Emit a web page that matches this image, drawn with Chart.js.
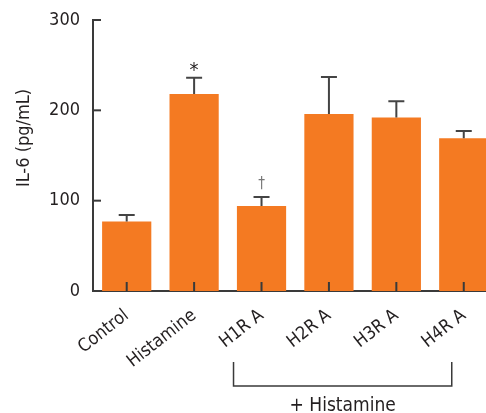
<!DOCTYPE html>
<html>
<head>
<meta charset="utf-8">
<script src="https://cdn.jsdelivr.net/npm/chart.js@4/dist/chart.umd.min.js"></script>
<style>
  html, body { margin: 0; padding: 0; background: #fff; overflow: hidden; }
  #wrap { width: 486px; height: 413px; }
</style>
</head>
<body>
<div id="wrap"><canvas id="c" width="486" height="413"></canvas></div>
<script>
// IL-6 release per treatment group (mean and SEM, pg/mL)
const categories = ['Control', 'Histamine', 'H1R A', 'H2R A', 'H3R A', 'H4R A'];
const il6Mean = [77, 218, 94, 196, 192, 169];
const il6Sem = [7, 18, 10, 41, 18, 8];
const significance = ['', '*', '\u2020', '', '', ''];
const yTicks = [0, 100, 200, 300];
const yTitle = 'IL-6 (pg/mL)';
const groupLabel = '+ Histamine';
const groupFirst = 2, groupLast = 5;

const FONT = "'Liberation Sans Narrow', 'DejaVu Sans Condensed', Roboto, sans-serif";
const INK = '#231f20';
const AXIS = '#3a3a3a';
const BAR = '#f47a22';

// Inward ticks, error bars, markers, axis title and the grouping bracket
const overlay = {
  id: 'overlay',
  afterDatasetsDraw(chart) {
    const { ctx, chartArea: a, scales: { x, y } } = chart;
    ctx.save();
    ctx.strokeStyle = AXIS;
    ctx.lineWidth = 2;
    // y ticks pointing into the plot
    yTicks.forEach(v => {
      if (v === 0) return;
      const py = y.getPixelForValue(v);
      ctx.beginPath(); ctx.moveTo(a.left, py); ctx.lineTo(a.left + 8, py); ctx.stroke();
    });
    // x ticks pointing up into the bars
    categories.forEach((_, i) => {
      const px = x.getPixelForValue(i);
      ctx.beginPath(); ctx.moveTo(px, a.bottom); ctx.lineTo(px, a.bottom - 9); ctx.stroke();
    });
    // upper error bars
    ctx.strokeStyle = '#444';
    categories.forEach((_, i) => {
      const px = x.getPixelForValue(i);
      const top = y.getPixelForValue(il6Mean[i] + il6Sem[i]);
      const base = y.getPixelForValue(il6Mean[i]);
      ctx.beginPath();
      ctx.moveTo(px, base); ctx.lineTo(px, top);
      ctx.moveTo(px - 8, top); ctx.lineTo(px + 8, top);
      ctx.stroke();
      if (significance[i]) {
        const star = significance[i] === '*';
        ctx.fillStyle = star ? INK : '#777';
        ctx.font = (star ? '20px ' : '15px ') + FONT;
        ctx.textAlign = 'center';
        ctx.textBaseline = 'alphabetic';
        ctx.fillText(significance[i], px, top + (star ? -2 : -9));
      }
    });
    // y axis title
    ctx.fillStyle = INK;
    ctx.font = '18px ' + FONT;
    ctx.textAlign = 'center';
    ctx.textBaseline = 'middle';
    ctx.save();
    ctx.translate(24, a.top + 118);
    ctx.rotate(-Math.PI / 2);
    ctx.fillText(yTitle, 0, 0);
    ctx.restore();
    // bracket grouping the antagonist treatments
    const bl = x.getPixelForValue(groupFirst) - 28;
    const br = x.getPixelForValue(groupLast) - 12;
    const bt = a.bottom + 71, bb = a.bottom + 95;
    ctx.strokeStyle = AXIS;
    ctx.lineWidth = 1.5;
    ctx.beginPath();
    ctx.moveTo(bl, bt); ctx.lineTo(bl, bb); ctx.lineTo(br, bb); ctx.lineTo(br, bt);
    ctx.stroke();
    ctx.font = '19px ' + FONT;
    ctx.fillText(groupLabel, (bl + br) / 2, bb + 20);
    ctx.restore();
  }
};

new Chart(document.getElementById('c'), {
  type: 'bar',
  data: {
    datasets: [{
      data: categories.map((c, i) => ({ x: i, y: il6Mean[i] })),
      backgroundColor: BAR,
      borderWidth: 0,
      barPercentage: 0.73,
      categoryPercentage: 1
    }]
  },
  options: {
    responsive: false,
    animation: false,
    devicePixelRatio: 1,
    layout: { padding: { top: 20, right: 0, bottom: 0, left: 0 } },
    plugins: { legend: { display: false }, tooltip: { enabled: false } },
    scales: {
      x: {
        type: 'linear',
        offset: false,
        min: -0.5,
        max: 5.33,
        afterBuildTicks: s => { s.ticks = categories.map((_, i) => ({ value: i })); },
        afterFit: s => { s.height = 122; s.paddingLeft = 0; s.paddingRight = 0; },
        grid: { display: false, drawTicks: false, offset: false },
        border: { display: true, color: AXIS, width: 2 },
        ticks: {
          autoSkip: false,
          minRotation: 38,
          maxRotation: 38,
          padding: 14,
          color: INK,
          font: { family: FONT, size: 18 },
          callback: v => categories[v]
        }
      },
      y: {
        min: 0,
        max: 300,
        afterBuildTicks: s => { s.ticks = yTicks.map(v => ({ value: v })); },
        afterFit: s => { s.width = 93; s.paddingTop = 0; s.paddingBottom = 0; },
        grid: { display: false, drawTicks: false },
        border: { display: true, color: AXIS, width: 2 },
        ticks: { padding: 13, color: INK, font: { family: FONT, size: 18 } }
      }
    }
  },
  plugins: [overlay]
});
</script>
</body>
</html>
